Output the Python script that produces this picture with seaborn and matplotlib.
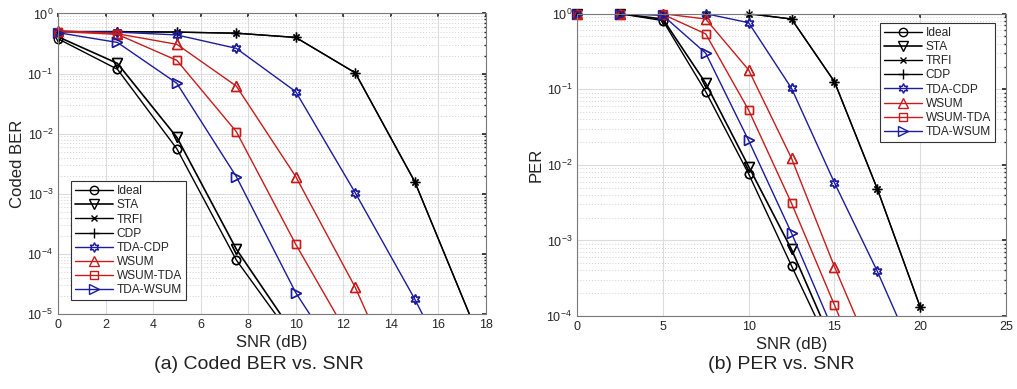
import numpy as np
import pandas as pd
import matplotlib
matplotlib.use("Agg")
import matplotlib.pyplot as plt
import seaborn as sns
from matplotlib.ticker import LogLocator, NullFormatter

# ---------------- data ----------------
snr_a = [0, 2.5, 5, 7.5, 10, 12.5, 15, 17.5]
ber_ideal = [0.38, 0.118, 0.0056, 7.9e-5, 3.4e-6]
ber_sta = [0.41, 0.148, 0.0087, 1.2e-4, 4.2e-6]
ber_trfi = [0.5, 0.5, 0.49, 0.47, 0.40, 0.103, 1.6e-3, 6.4e-6]
ber_cdp = [0.5, 0.5, 0.49, 0.47, 0.40, 0.103, 1.6e-3, 6.4e-6]
ber_tda_cdp = [0.5, 0.49, 0.44, 0.263, 0.05, 1.04e-3, 1.78e-5, 2e-7]
ber_wsum = [0.52, 0.46, 0.307, 0.062, 1.93e-3, 2.78e-5, 1.7e-7]
ber_wsum_tda = [0.5, 0.45, 0.166, 0.0108, 1.44e-4, 2.75e-6]
ber_tda_wsum = [0.48, 0.33, 0.069, 1.93e-3, 2.26e-5, 6.8e-7]

snr_b = [0, 2.5, 5, 7.5, 10, 12.5, 15, 17.5, 20]
per_ideal = [1, 1, 0.81, 0.093, 7.6e-3, 4.6e-4, 2.9e-5]
per_sta = [1, 1, 0.85, 0.12, 9.5e-3, 7.6e-4, 3.8e-5]
per_trfi = [1, 1, 1, 1, 1, 0.85, 0.126, 4.8e-3, 1.31e-4]
per_cdp = [1, 1, 1, 1, 1, 0.85, 0.126, 4.8e-3, 1.31e-4]
per_tda_cdp = [1, 1, 1, 1, 0.76, 0.103, 5.8e-3, 3.9e-4, 2e-5]
per_wsum = [1, 1, 1, 0.85, 0.18, 0.0122, 4.5e-4, 2.1e-5]
per_wsum_tda = [1, 1, 0.98, 0.54, 0.053, 3.1e-3, 1.4e-4, 6e-6]
per_tda_wsum = [1, 1, 0.95, 0.30, 0.021, 1.25e-3, 5.9e-5]

names = ["Ideal", "STA", "TRFI", "CDP", "TDA-CDP", "WSUM", "WSUM-TDA", "TDA-WSUM"]
ber_series = [ber_ideal, ber_sta, ber_trfi, ber_cdp, ber_tda_cdp, ber_wsum, ber_wsum_tda, ber_tda_wsum]
per_series = [per_ideal, per_sta, per_trfi, per_cdp, per_tda_cdp, per_wsum, per_wsum_tda, per_tda_wsum]

BLACK = "#000000"
BLUE = "#1c1c9e"
RED = "#c81c1c"
styles = {
    "Ideal": dict(color=BLACK, marker="o", ms=6, lw=1.0),
    "STA": dict(color=BLACK, marker="v", ms=7, lw=1.2),
    "TRFI": dict(color=BLACK, marker="x", ms=5, lw=1.0),
    "CDP": dict(color=BLACK, marker="+", ms=7, lw=1.0),
    "TDA-CDP": dict(color=BLUE, marker=(6, 1, 0), ms=7, lw=1.0),
    "WSUM": dict(color=RED, marker="^", ms=7, lw=1.0),
    "WSUM-TDA": dict(color=RED, marker="s", ms=5.5, lw=1.0),
    "TDA-WSUM": dict(color=BLUE, marker=">", ms=7, lw=1.0),
}

sns.set_theme(style="white")
plt.rcParams["font.family"] = ["Liberation Sans", "DejaVu Sans"]

fig = plt.figure(figsize=(10.17, 3.89), dpi=100)
axL = fig.add_axes([0.0570, 0.1928, 0.4209, 0.7725])
axR = fig.add_axes([0.5674, 0.1877, 0.4218, 0.7771])


def draw(ax, snr, series, xlim, ylim, xticks, ylabel, legend_loc, legend_anchor):
    for name, vals in zip(names, series):
        st = styles[name]
        df = pd.DataFrame({"SNR": snr[:len(vals)], "v": vals})
        sns.lineplot(data=df, x="SNR", y="v", ax=ax, color=st["color"],
                     marker=st["marker"], markersize=st["ms"], linewidth=st["lw"],
                     markerfacecolor="none", markeredgecolor=st["color"],
                     markeredgewidth=1.0, label=name)
        # markers inside the data range, drawn unclipped (as MATLAB does)
        inside = df[(df["v"] >= ylim[0]) & (df["v"] <= ylim[1]) &
                    (df["SNR"] >= xlim[0]) & (df["SNR"] <= xlim[1])]
        sns.lineplot(data=inside, x="SNR", y="v", ax=ax, color=st["color"],
                     marker=st["marker"], markersize=st["ms"], linestyle="none",
                     markerfacecolor="none", markeredgecolor=st["color"],
                     markeredgewidth=1.0, clip_on=False, legend=False)
    ax.set_yscale("log")
    ax.set_xlim(*xlim)
    ax.set_ylim(*ylim)
    ax.set_xticks(xticks)
    ax.yaxis.set_major_locator(LogLocator(base=10, numticks=10))
    ax.yaxis.set_minor_locator(LogLocator(base=10, subs=np.arange(2, 10), numticks=100))
    ax.yaxis.set_minor_formatter(NullFormatter())
    ax.grid(True, which="major", color="#dcdcdc", linewidth=0.8, linestyle="-")
    ax.grid(True, which="minor", axis="y", color="#d0d0d0", linewidth=0.7, linestyle=(0, (1, 2)))
    ax.set_axisbelow(True)
    ax.tick_params(which="both", direction="in", top=True, right=True,
                   colors="#262626", labelsize=9, length=3)
    ax.tick_params(which="minor", length=1.5)
    for s in ax.spines.values():
        s.set_color("#7a7a7a")
        s.set_linewidth(0.8)
    ax.set_xlabel("SNR (dB)", fontsize=12, color="#222222", labelpad=3)
    ax.set_ylabel(ylabel, fontsize=12, color="#222222", labelpad=2)
    handles, labels = ax.get_legend_handles_labels()
    leg = ax.legend(handles[:8], labels[:8], loc=legend_loc, bbox_to_anchor=legend_anchor,
                    fontsize=8.6, frameon=True, fancybox=False, edgecolor="#333333",
                    handlelength=3.2, handletextpad=0.3, labelspacing=0.18,
                    borderpad=0.35, borderaxespad=0)
    leg.get_frame().set_linewidth(0.8)
    leg.get_frame().set_facecolor("white")
    leg.get_frame().set_alpha(1.0)


draw(axL, snr_a, ber_series, (0, 18), (1e-5, 1), np.arange(0, 19, 2), "Coded BER",
     "lower left", (0.03, 0.045))
draw(axR, snr_b, per_series, (0, 25), (1e-4, 1), np.arange(0, 26, 5), "PER",
     "upper right", (0.975, 0.97))

fig.text(0.255, 0.062, "(a) Coded BER vs. SNR", ha="center", va="center",
         fontsize=14, color="#222222")
fig.text(0.768, 0.062, "(b) PER vs. SNR", ha="center", va="center",
         fontsize=14, color="#222222")

fig.savefig("out.png", dpi=100)
